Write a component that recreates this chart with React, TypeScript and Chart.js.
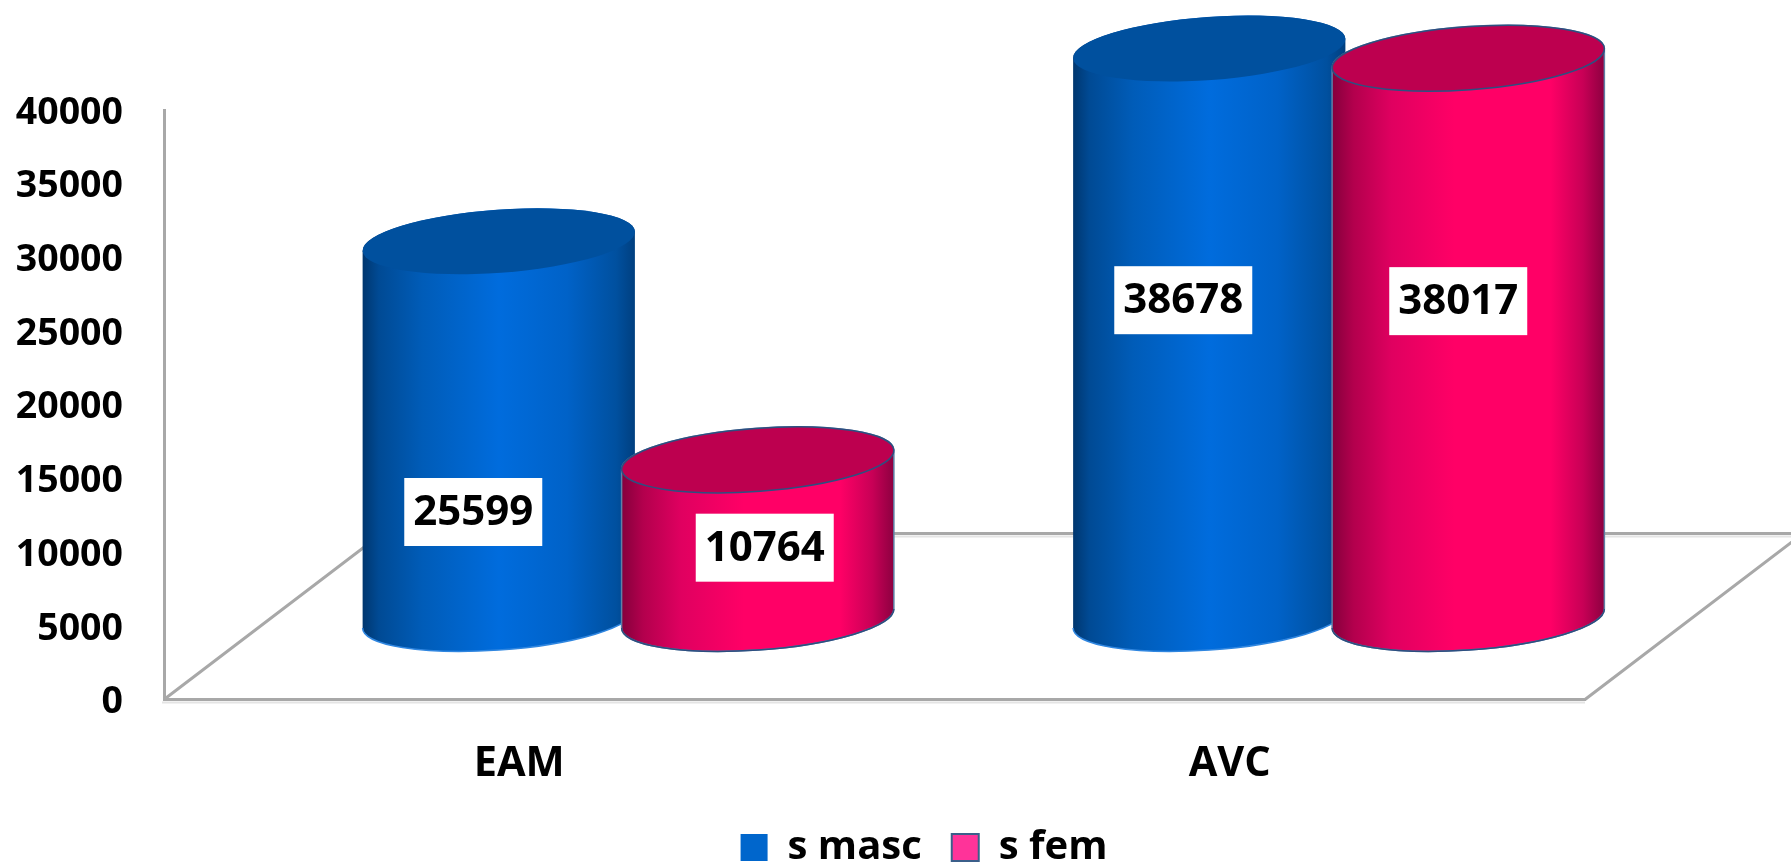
import React, { useEffect, useRef } from "react";
import { Chart, registerables } from "chart.js";

Chart.register(...registerables);

const categories = ["EAM", "AVC"];
const sMasc = [25599, 38678];
const sFem = [10764, 38017];
const seriesNames = ["s masc", "s fem"];

const FONT = '"Open Sans", sans-serif';
const DEPTH_X = 110;
const DEPTH_Y = -81;
const FLOOR_X = 218;
const FLOOR_Y = -166;
const LINE = "#a8a8a8";
const LINE_SHADOW = "#e4e4e4";

// Where each value box sits on its cylinder: sideways shift in px, height as a share of the bar.
const BOX_PLACEMENT = [
  [{ dx: -26.5, share: 0.497 }, { dx: -27, share: 0.7005 }],
  [{ dx: 6, share: 0.957 }, { dx: -11, share: 0.711 }],
];

const SKINS = [
  {
    stops: [[0, "#00366e"], [0.06, "#004a94"], [0.22, "#005cb8"], [0.5, "#006cdd"], [0.75, "#0062c8"], [0.93, "#00509f"], [1, "#003f7f"]],
    top: "#00509e",
    edge: "#2f86e0",
  },
  {
    stops: [[0, "#84003c"], [0.08, "#b3004d"], [0.22, "#e00060"], [0.45, "#ff0066"], [0.8, "#ff0066"], [0.92, "#c80056"], [1, "#8c0040"]],
    top: "#bd004f",
    edge: "#2d4f80",
  },
];

const TILT = -0.073;
const FLATNESS = 0.231;

const cylinders = {
  id: "cylinders",
  beforeDatasetDraw() {
    return false; // the bars are painted as cylinders below
  },
  beforeDatasetsDraw(chart: any) {
    const { ctx, chartArea: a } = chart;
    ctx.save();
    ctx.strokeStyle = LINE_SHADOW;
    ctx.lineWidth = 2;
    ctx.beginPath();
    ctx.moveTo(a.left - 2, a.bottom + 3);
    ctx.lineTo(a.right, a.bottom + 3);
    ctx.moveTo(a.left + FLOOR_X, a.bottom + FLOOR_Y + 3);
    ctx.lineTo(a.right + FLOOR_X, a.bottom + FLOOR_Y + 3);
    ctx.stroke();
    ctx.strokeStyle = LINE;
    ctx.lineWidth = 3;
    ctx.beginPath();
    ctx.moveTo(a.left, a.bottom);
    ctx.lineTo(a.left + FLOOR_X, a.bottom + FLOOR_Y);
    ctx.lineTo(a.right + FLOOR_X, a.bottom + FLOOR_Y);
    ctx.lineTo(a.right, a.bottom);
    ctx.stroke();
    ctx.restore();
  },
  afterDatasetsDraw(chart: any) {
    const { ctx } = chart;
    const t0 = Math.atan(-FLATNESS * Math.tan(TILT));
    chart.data.datasets.forEach((_: any, d: number) => {
      const skin = SKINS[d];
      chart.getDatasetMeta(d).data.forEach((el: any) => {
        const cx = el.x + DEPTH_X - 1;
        const ty = el.y + DEPTH_Y;
        const by = el.base + DEPTH_Y;
        const ra = el.width / 2;
        const rb = ra * FLATNESS;
        const g = ctx.createLinearGradient(cx - ra, 0, cx + ra, 0);
        skin.stops.forEach(([o, c]: any) => g.addColorStop(o, c));
        ctx.save();
        ctx.beginPath();
        ctx.ellipse(cx, by, ra, rb, TILT, t0, t0 + Math.PI);
        ctx.ellipse(cx, ty, ra, rb, TILT, t0 + Math.PI, t0 + 2 * Math.PI);
        ctx.closePath();
        ctx.fillStyle = g;
        ctx.fill();
        if (d === 1) {
          ctx.strokeStyle = "#5f80a6";
          ctx.lineWidth = 1.5;
          ctx.stroke();
        }
        ctx.beginPath();
        ctx.ellipse(cx, by, ra, rb, TILT, t0, t0 + Math.PI);
        ctx.strokeStyle = skin.edge;
        ctx.lineWidth = 1.5;
        ctx.stroke();
        ctx.beginPath();
        ctx.ellipse(cx, ty, ra, rb, TILT, 0, 2 * Math.PI);
        ctx.fillStyle = skin.top;
        ctx.fill();
        if (d === 1) {
          ctx.strokeStyle = skin.edge;
          ctx.lineWidth = 1.5;
          ctx.stroke();
        }
        ctx.restore();
      });
    });
    chart.data.datasets.forEach((ds: any, d: number) => {
      chart.getDatasetMeta(d).data.forEach((el: any, i: number) => {
        const place = BOX_PLACEMENT[d][i];
        const x = el.x + DEPTH_X + place.dx;
        const y = el.base - (el.base - el.y) * place.share;
        ctx.save();
        ctx.fillStyle = "#ffffff";
        ctx.fillRect(x - 69, y - 34, 138, 68);
        ctx.fillStyle = "#000000";
        ctx.font = `bold 42px ${FONT}`;
        ctx.textAlign = "center";
        ctx.textBaseline = "middle";
        ctx.fillText(String(ds.data[i]), x, y + 1);
        ctx.restore();
      });
    });
  },
};

export default function App() {
  const ref = useRef<HTMLCanvasElement>(null);
  useEffect(() => {
    const chart = new Chart(ref.current!, {
      type: "bar",
      data: {
        labels: categories,
        datasets: [
          { label: seriesNames[0], data: sMasc, backgroundColor: "#0066cc", borderColor: "#0066cc", borderWidth: 0 },
          { label: seriesNames[1], data: sFem, backgroundColor: "#ff3399", borderColor: "#3b5f8a", borderWidth: 2 },
        ],
      },
      options: {
        responsive: false,
        animation: false,
        categoryPercentage: 0.729,
        barPercentage: 1.054,
        layout: { padding: { left: 0, right: -57, top: 110, bottom: -12.5 } },
        plugins: {
          tooltip: { enabled: false },
          legend: {
            position: "bottom",
            labels: {
              boxWidth: 27,
              boxHeight: 27,
              padding: 30,
              color: "#000000",
              font: { family: FONT, size: 40, weight: "bold" },
            },
          },
        },
        scales: {
          x: {
            grid: { display: false },
            border: { display: true, color: LINE, width: 3 },
            ticks: { color: "#000000", padding: 31.5, font: { family: FONT, size: 41.5, weight: "bold" } },
            afterFit(s: any) { s.height = 98; },
          },
          y: {
            min: 0,
            max: 40000,
            grid: { display: false, drawTicks: false },
            border: { display: true, color: LINE, width: 3 },
            ticks: {
              stepSize: 5000,
              padding: 41,
              labelOffset: 3,
              color: "#000000",
              font: { family: FONT, size: 37.5, weight: "bold" },
              callback: (v: any) => String(v),
            },
            afterFit(s: any) { s.width = 164; },
          },
          floorRoom: {
            type: "linear",
            position: "right",
            grid: { display: false },
            border: { display: false },
            ticks: { display: false },
            afterFit(s: any) { s.width = 263; },
          },
        },
      } as any,
      plugins: [cylinders as any],
    });
    return () => chart.destroy();
  }, []);
  return (
    <div style={{ position: "fixed", left: 0, top: 0, width: 1791, height: 865, background: "#ffffff" }}>
      <canvas ref={ref} width={1791} height={865} style={{ display: "block" }} />
    </div>
  );
}
